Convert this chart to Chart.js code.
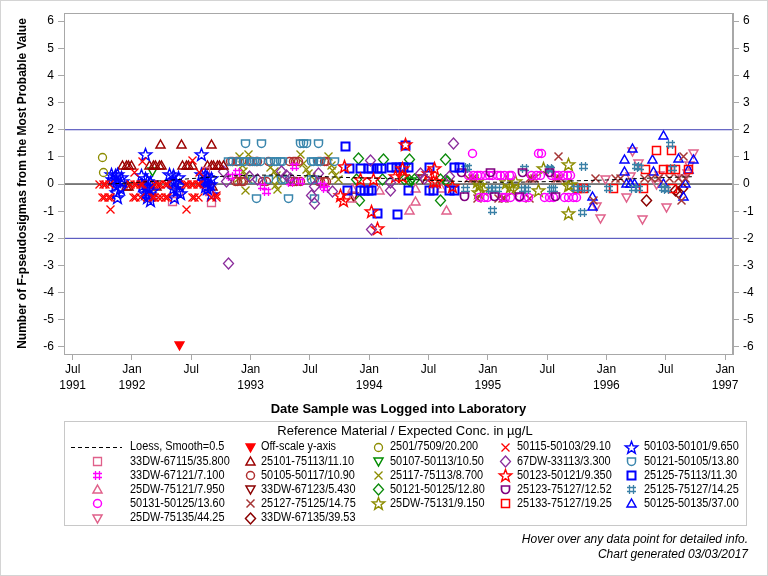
<!DOCTYPE html>
<html>
<head>
<meta charset="utf-8">
<title>Reference material F-pseudosigmas</title>
<script src="https://cdn.jsdelivr.net/npm/chart.js@4.4.1/dist/chart.umd.min.js"></script>
<style>
  html, body { margin: 0; padding: 0; background: #fff; }
  #wrap { width: 768px; height: 576px; }
</style>
</head>
<body>
<div id="wrap"><canvas id="chart" width="768" height="576"></canvas></div>
<script>
// Axis range (decimal years) and tick labels
const xMin = 1991.427, xMax = 1997.067;
const yMin = -6.26, yMax = 6.3;
const xTicks = [1991.5, 1992, 1992.5, 1993, 1993.5, 1994, 1994.5, 1995, 1995.5, 1996, 1996.5, 1997];
const yTicks = [-6, -5, -4, -3, -2, -1, 0, 1, 2, 3, 4, 5, 6];
const refLines = [0, 2, -2];

// Data: [decimal year, pseudosigmas]
const loess = [[1991.8, 0.0], [1992.0, 0.05], [1992.25, 0.12], [1992.5, 0.2], [1992.75, 0.28], [1993.0, 0.32],
  [1993.25, 0.33], [1993.5, 0.3], [1993.75, 0.25], [1994.0, 0.22], [1994.25, 0.19], [1994.5, 0.14],
  [1994.75, 0.1], [1995.0, 0.07], [1995.25, 0.07], [1995.5, 0.09], [1995.75, 0.12], [1996.0, 0.15],
  [1996.25, 0.2], [1996.5, 0.24], [1996.72, 0.27]];
const offScale = [[1992.40, -5.95]];
const s2501 = [[1991.75, 0.98], [1991.76, 0.43]];
const s50115 = [[1991.73, -0.02], [1991.76, -0.02], [1991.78, -0.02], [1991.81, -0.02],
  [1991.99, -0.02], [1992.02, -0.02], [1992.04, -0.02], [1992.07, -0.02], [1992.09, -0.02],
  [1992.19, -0.02], [1992.22, -0.02], [1992.24, -0.02], [1992.28, -0.02], [1992.30, -0.02],
  [1992.45, -0.02], [1992.47, -0.02], [1992.50, -0.02], [1992.52, -0.02], [1992.55, -0.02], [1992.57, -0.02],
  [1991.75, -0.49], [1991.77, -0.49], [1991.80, -0.49], [1991.82, -0.49],
  [1992.01, -0.49], [1992.03, -0.49], [1992.07, -0.49],
  [1992.17, -0.49], [1992.19, -0.49], [1992.22, -0.49], [1992.25, -0.49], [1992.28, -0.49], [1992.30, -0.49],
  [1992.51, -0.49], [1992.53, -0.49], [1992.56, -0.49], [1992.67, -0.49], [1992.71, -0.49],
  [1991.82, -0.93], [1992.46, -0.93], [1992.09, 0.82], [1992.51, 0.86], [1992.02, 0.42], [1992.57, 0.42], [1992.71, -0.41]];
const s50103 = [[1991.83, 0.35], [1991.86, 0.3], [1991.88, 0.35], [1991.91, 0.25], [1991.84, 0.15], [1991.87, 0.1],
  [1991.92, 0.1], [1991.86, -0.05], [1991.90, -0.15], [1991.87, -0.3], [1991.88, -0.5],
  [1992.08, 0.3], [1992.11, 0.2], [1992.13, 0.1], [1992.16, 0.05], [1992.09, -0.05], [1992.12, -0.1],
  [1992.14, -0.2], [1992.17, -0.25], [1992.11, -0.35], [1992.15, -0.4], [1992.13, -0.5], [1992.16, -0.6], [1992.11, 1.07],
  [1992.32, 0.35], [1992.35, 0.3], [1992.39, 0.25], [1992.34, 0.1], [1992.37, 0.05], [1992.40, -0.05],
  [1992.35, -0.15], [1992.38, -0.25], [1992.41, -0.35], [1992.36, -0.5],
  [1992.59, 0.35], [1992.62, 0.3], [1992.64, 0.25], [1992.67, 0.2], [1992.61, 0.1], [1992.63, 0.05],
  [1992.66, 0.0], [1992.62, -0.1], [1992.59, 1.1], [1992.67, -0.4], [1992.64, -0.15]];
const s33dw67115 = [[1992.34, -0.65], [1992.67, -0.67], [1992.62, 0.47], [1992.13, -0.29], [1992.39, -0.29], [1992.65, -0.29]];
const s25101 = [[1992.24, 1.44], [1992.42, 1.44], [1992.67, 1.44],
  [1991.92, 0.7], [1991.95, 0.7], [1991.97, 0.7], [1992.0, 0.7],
  [1992.15, 0.7], [1992.18, 0.7], [1992.20, 0.7], [1992.23, 0.7], [1992.25, 0.7],
  [1992.43, 0.7], [1992.46, 0.7], [1992.48, 0.7], [1992.51, 0.7],
  [1992.64, 0.7], [1992.67, 0.7], [1992.69, 0.7], [1992.72, 0.7], [1992.74, 0.7], [1992.77, 0.7],
  [1991.95, -0.1], [1991.97, -0.1], [1992.21, -0.1], [1992.68, -0.1]];
const s50107 = [[1992.17, 0.45], [1994.36, 0.1]];
const s67dw = [[1992.77, 0.45], [1992.80, 0.08], [1992.81, -2.91], [1992.99, 0.27], [1993.06, 0.15],
  [1993.26, 0.45], [1993.30, 0.33], [1993.34, 0.22], [1993.57, 0.39], [1993.54, -0.1], [1993.51, -0.41],
  [1993.54, -0.7], [1993.69, -0.28], [1994.01, 0.88], [1994.18, 0.04], [1994.18, -0.22], [1994.02, -1.69],
  [1994.71, 1.5], [1994.43, 0.39], [1994.47, 0.2], [1994.68, 0.27]];
const s50121_05 = [[1992.96, 1.5], [1993.09, 1.5], [1993.42, 1.5], [1993.45, 1.5], [1993.47, 1.5], [1993.57, 1.5],
  [1992.81, 0.82], [1992.85, 0.82], [1992.91, 0.82], [1992.94, 0.82], [1992.95, 0.82], [1993.0, 0.82],
  [1993.03, 0.82], [1993.05, 0.82], [1993.08, 0.82], [1993.17, 0.82], [1993.20, 0.82], [1993.22, 0.82],
  [1993.25, 0.82], [1993.27, 0.82], [1993.51, 0.82], [1993.53, 0.82], [1993.56, 0.82], [1993.59, 0.82], [1993.71, 0.82],
  [1993.02, 0.15], [1993.15, 0.15], [1993.26, 0.15], [1993.29, 0.15], [1993.51, 0.15], [1993.54, 0.15],
  [1993.05, -0.53], [1993.32, -0.53], [1993.54, -0.53]];
const s33dw67121 = [[1992.83, 0.27], [1992.89, 0.41], [1993.10, -0.1], [1993.13, -0.28], [1993.37, 0.66],
  [1993.34, 0.04], [1993.42, 0.08], [1993.61, -0.04], [1993.63, -0.16]];
const s50105 = [[1992.83, 0.82], [1992.85, 0.82], [1992.88, 0.82], [1992.89, 0.82],
  [1992.99, 0.82], [1993.02, 0.82], [1993.05, 0.82], [1993.06, 0.82], [1993.15, 0.82],
  [1993.33, 0.82], [1993.36, 0.82], [1993.38, 0.82], [1993.40, 0.82],
  [1993.57, 0.82], [1993.59, 0.82], [1993.62, 0.82], [1993.64, 0.82],
  [1992.87, 0.08], [1992.89, 0.08], [1992.92, 0.08], [1992.94, 0.08], [1993.10, 0.08], [1993.13, 0.08],
  [1993.34, 0.08], [1993.37, 0.08], [1993.39, 0.08], [1993.42, 0.08],
  [1993.57, 0.08], [1993.59, 0.08], [1993.62, 0.08], [1993.64, 0.08]];
const s25117 = [[1992.91, 1.0], [1992.93, 0.7], [1992.94, 0.45], [1992.96, 0.3], [1992.90, 0.2], [1992.98, 0.15],
  [1992.98, 1.07], [1992.96, -0.22],
  [1993.17, 0.6], [1993.20, 0.45], [1993.22, 0.3], [1993.24, 0.15], [1993.21, -0.05], [1993.23, -0.2],
  [1993.42, 1.07], [1993.45, 0.75], [1993.47, 0.55], [1993.49, 0.4], [1993.51, 0.27],
  [1993.66, 1.0], [1993.68, 0.7], [1993.69, 0.5], [1993.72, 0.3], [1993.74, 0.15]];
const s50123 = [[1993.79, 0.64], [1993.76, -0.41], [1993.78, -0.59], [1994.02, -1.02], [1994.07, -1.63],
  [1993.93, 0.15], [1994.04, 0.15], [1994.31, 1.44], [1994.28, 0.58], [1994.55, 0.58], [1994.22, 0.27],
  [1994.28, 0.27], [1994.54, 0.08], [1994.57, 0.08], [1994.70, -0.1], [1994.50, 0.39]];
const s25125_13 = [[1993.80, 1.4], [1993.83, 0.58], [1993.93, 0.58], [1993.99, 0.58], [1994.02, 0.58],
  [1994.07, 0.58], [1994.10, 0.58], [1993.82, -0.22], [1993.93, -0.22], [1993.96, -0.22], [1993.99, -0.22],
  [1994.02, -0.22], [1994.07, -1.08], [1994.24, -1.14], [1994.19, 0.6], [1994.23, 0.6], [1994.26, 0.6],
  [1994.29, 0.6], [1994.33, 0.6], [1994.33, -0.22], [1994.51, 0.6], [1994.51, -0.22], [1994.54, -0.22],
  [1994.72, 0.6], [1994.76, 0.6], [1994.68, -0.22], [1994.72, -0.22], [1994.31, 1.43]];
const s25dw75121 = [[1993.86, -0.16], [1993.85, -0.53], [1994.09, -0.22], [1994.39, -0.63], [1994.34, -0.99],
  [1994.65, -0.99], [1994.39, -0.16], [1994.61, -0.16]];
const s33dw67123 = [[1993.87, -0.45], [1994.45, 0.22]];
const s50121_25 = [[1993.91, 0.94], [1994.12, 0.92], [1993.92, -0.59], [1993.89, 0.15], [1994.11, 0.15],
  [1994.34, 0.91], [1994.64, 0.91], [1994.60, -0.59], [1994.30, 0.15], [1994.34, 0.12], [1994.38, 0.15],
  [1994.60, 0.15], [1994.64, 0.12], [1994.66, 0.1]];
const s25123 = [[1994.78, 0.42], [1995.02, 0.42], [1995.29, 0.42], [1995.52, 0.42],
  [1994.80, -0.47], [1995.06, -0.47], [1995.27, -0.47], [1995.57, -0.47]];
const s25125_27 = [[1994.81, 0.58], [1994.83, 0.6], [1995.31, 0.58], [1995.52, 0.58], [1995.53, 0.55],
  [1994.81, -0.2], [1995.02, -0.2], [1995.05, -0.2], [1995.08, -0.2], [1995.30, -0.2], [1995.33, -0.2],
  [1995.54, -0.2], [1995.55, -0.2], [1995.04, -0.99], [1995.81, 0.64], [1995.80, -1.04], [1995.74, -0.16],
  [1995.78, -0.16], [1995.83, -0.16], [1996.02, -0.16], [1996.23, -0.16], [1996.27, -0.16], [1996.48, -0.16],
  [1996.25, 0.64], [1996.28, 0.6], [1996.54, 1.47], [1996.56, 0.58], [1996.51, -0.2]];
const s50131 = [[1994.87, 1.13], [1995.43, 1.13], [1995.45, 1.13],
  [1994.84, 0.33], [1994.88, 0.33], [1994.91, 0.33], [1994.94, 0.33], [1994.98, 0.33], [1995.01, 0.33],
  [1995.04, 0.33], [1995.08, 0.33], [1995.11, 0.33], [1995.14, 0.33], [1995.18, 0.33], [1995.20, 0.33],
  [1995.37, 0.33], [1995.41, 0.33], [1995.44, 0.33], [1995.54, 0.33], [1995.57, 0.33], [1995.60, 0.33],
  [1995.64, 0.33], [1995.67, 0.33], [1995.70, 0.33],
  [1994.93, -0.49], [1994.97, -0.49], [1995.0, -0.49], [1995.12, -0.49], [1995.15, -0.49], [1995.19, -0.49],
  [1995.27, -0.49], [1995.31, -0.49], [1995.34, -0.49], [1995.48, -0.49], [1995.52, -0.49], [1995.55, -0.49],
  [1995.65, -0.49], [1995.68, -0.49], [1995.72, -0.49], [1995.75, -0.49]];
const s25127 = [[1995.60, 1.0], [1994.84, 0.2], [1994.87, 0.2], [1994.89, 0.2], [1995.35, 0.2], [1995.37, 0.2],
  [1995.39, 0.2], [1995.57, 0.2], [1995.59, 0.2], [1995.61, 0.2], [1994.91, -0.53], [1995.09, -0.53],
  [1995.12, -0.53], [1995.14, -0.53], [1995.35, -0.53], [1995.89, -0.59], [1995.91, 0.2], [1996.08, 0.2],
  [1996.12, 0.2], [1996.32, 0.2], [1996.38, 0.2], [1996.44, 0.22], [1996.53, 0.2], [1996.65, 1.0],
  [1996.61, 0.2], [1996.67, 0.2], [1996.63, -0.59]];
const s25dw75131 = [[1995.47, 0.58], [1995.68, 0.72], [1995.68, -0.04], [1995.68, -1.08], [1994.91, 0.1],
  [1994.93, -0.05], [1994.96, -0.2], [1994.92, -0.3], [1995.16, 0.05], [1995.19, -0.1], [1995.21, -0.2],
  [1995.23, 0.1], [1995.43, -0.22], [1995.70, 0.0]];
const s25133 = [[1996.42, 1.25], [1996.55, 1.25], [1996.33, 0.55], [1996.48, 0.55], [1996.54, 0.55],
  [1996.58, 0.55], [1996.69, 0.55], [1995.76, -0.15], [1995.81, -0.15], [1996.06, -0.15], [1996.31, -0.15],
  [1996.56, -0.15]];
const s50125 = [[1996.48, 1.8], [1996.22, 1.31], [1996.15, 0.91], [1996.39, 0.91], [1996.73, 0.91],
  [1996.15, 0.45], [1996.40, 0.45], [1995.88, -0.47], [1995.88, -0.83], [1996.17, 0.03], [1996.20, 0.03],
  [1996.24, 0.03], [1996.48, 0.03], [1996.67, 0.03], [1996.65, -0.47], [1996.69, 0.52], [1996.61, 0.94]];
const s25dw75135 = [[1996.22, 1.19], [1996.27, 0.76], [1996.17, -0.49], [1995.95, -1.26], [1996.51, -0.86],
  [1996.73, 1.13], [1996.70, 0.7], [1995.92, -0.83], [1996.30, -1.3], [1996.42, 0.0], [1996.20, 0.29],
  [1995.99, 0.15], [1996.45, 0.33], [1996.64, 0.21], [1996.68, 0.39]];
const s33dw67135 = [[1996.34, -0.61], [1996.58, -0.22], [1996.64, -0.16], [1996.61, -0.3]];

// Marker glyphs drawn on small canvases so they can be used as pointStyle
function makeMarker(shape, color, lw) {
  const c = document.createElement("canvas");
  c.width = 19; c.height = 19;
  const g = c.getContext("2d");
  g.strokeStyle = color;
  g.fillStyle = color;
  g.lineWidth = lw || 1.3;
  g.beginPath();
  if (shape === "square") {
    g.rect(5.5, 5.5, 8, 8);
  } else if (shape === "circle") {
    g.arc(9.5, 9.5, 4, 0, Math.PI * 2);
  } else if (shape === "triangle") {
    g.moveTo(9.5, 5); g.lineTo(14, 13); g.lineTo(5, 13); g.closePath();
  } else if (shape === "triangleDown" || shape === "triangleFill") {
    g.moveTo(5, 6); g.lineTo(14, 6); g.lineTo(9.5, 14); g.closePath();
  } else if (shape === "diamond") {
    g.moveTo(9.5, 4); g.lineTo(14.5, 9.5); g.lineTo(9.5, 15); g.lineTo(4.5, 9.5); g.closePath();
  } else if (shape === "x") {
    g.moveTo(5.5, 5.5); g.lineTo(13.5, 13.5); g.moveTo(13.5, 5.5); g.lineTo(5.5, 13.5);
  } else if (shape === "hash") {
    g.moveTo(7.5, 5); g.lineTo(7.5, 14); g.moveTo(11.5, 5); g.lineTo(11.5, 14);
    g.moveTo(5, 7.5); g.lineTo(14, 7.5); g.moveTo(5, 11.5); g.lineTo(14, 11.5);
  } else if (shape === "star") {
    for (let i = 0; i < 10; i++) {
      const r = i % 2 ? 2.7 : 6.5;
      const a = -Math.PI / 2 + i * Math.PI / 5;
      const px = 9.5 + r * Math.cos(a), py = 10 + r * Math.sin(a);
      if (i === 0) g.moveTo(px, py); else g.lineTo(px, py);
    }
    g.closePath();
  } else if (shape === "union") {
    g.moveTo(5.5, 6); g.lineTo(13.5, 6); g.lineTo(13.5, 9.5);
    g.arc(9.5, 9.5, 4, 0, Math.PI); g.closePath();
  }
  if (shape === "triangleFill") g.fill();
  g.stroke();
  return c;
}

function series(label, data, shape, color, lw) {
  return {
    label: label,
    data: data,
    pointStyle: makeMarker(shape, color, lw),
    pointRadius: 4,
    pointHoverRadius: 4,
    borderColor: color,
    backgroundColor: color,
    showLine: false
  };
}

// Datasets in legend order (row by row, five columns)
const datasets = [
  { label: "Loess, Smooth=0.5", data: loess, showLine: true, borderColor: "#000", borderWidth: 1,
    borderDash: [4, 3], pointRadius: 0, tension: 0.35, isLoess: true },
  series("Off-scale y-axis", offScale, "triangleFill", "#ff0000"),
  series("2501/7509/20.200", s2501, "circle", "#8c8c00"),
  series("50115-50103/29.10", s50115, "x", "#ff0000"),
  series("50103-50101/9.650", s50103, "star", "#0000ff", 1.4),
  series("33DW-67115/35.800", s33dw67115, "square", "#e0608a"),
  series("25101-75113/11.10", s25101, "triangle", "#9b0000", 1.5),
  series("50107-50113/10.50", s50107, "triangleDown", "#008c00", 1.5),
  series("67DW-33113/3.300", s67dw, "diamond", "#8b2d9c"),
  series("50121-50105/13.80", s50121_05, "union", "#3a86ad", 1.5),
  series("33DW-67121/7.100", s33dw67121, "hash", "#ff00ff"),
  series("50105-50117/10.90", s50105, "circle", "#b03030", 1.5),
  series("25117-75113/8.700", s25117, "x", "#8c8c00"),
  series("50123-50121/9.350", s50123, "star", "#ff0000", 1.4),
  series("25125-75113/11.30", s25125_13, "square", "#0000ff", 2),
  series("25DW-75121/7.950", s25dw75121, "triangle", "#e0608a", 1.5),
  series("33DW-67123/5.430", s33dw67123, "triangleDown", "#8b0000", 1.5),
  series("50121-50125/12.80", s50121_25, "diamond", "#0a8a0a"),
  series("25123-75127/12.52", s25123, "union", "#800080", 1.7),
  series("25125-75127/14.25", s25125_27, "hash", "#3a80a6"),
  series("50131-50125/13.60", s50131, "circle", "#ff00ff", 1.5),
  series("25127-75125/14.75", s25127, "x", "#a53535", 1.5),
  series("25DW-75131/9.150", s25dw75131, "star", "#8c8c00", 1.4),
  series("25133-75127/19.25", s25133, "square", "#ff0000", 1.5),
  series("50125-50135/37.00", s50125, "triangle", "#0000ff", 1.5),
  series("25DW-75135/44.25", s25dw75135, "triangleDown", "#e0608a", 1.5),
  series("33DW-67135/39.53", s33dw67135, "diamond", "#8b0000", 1.5)
];

// Reference lines at 0 and +/-2, drawn underneath the markers
refLines.forEach(v => {
  datasets.push({
    label: "ref" + v, data: [[xMin, v], [xMax, v]], showLine: true, pointRadius: 0,
    borderColor: v === 0 ? "#000" : "#3c3cb4", borderWidth: 1, order: 10, isRef: true
  });
});

const regular = '"Liberation Sans", Arial, sans-serif';

// Frame, legend box and footnote
const decorations = {
  id: "decorations",
  beforeDatasetsDraw(chart) {
    chart.ctx.imageSmoothingEnabled = false;
  },
  afterDraw(chart) {
    const ctx = chart.ctx;
    const a = chart.chartArea;
    ctx.save();
    ctx.imageSmoothingEnabled = false;
    ctx.lineWidth = 1;
    ctx.strokeStyle = "#a8a8a8";
    ctx.strokeRect(Math.round(a.left) + 0.5, Math.round(a.top) + 0.5, Math.round(a.right - a.left) - 1, Math.round(a.bottom - a.top));
    ctx.strokeStyle = "#d4d4d4";
    ctx.strokeRect(0.5, 0.5, 767, 575);

    // legend
    ctx.strokeStyle = "#c8c8c8";
    ctx.strokeRect(64.5, 421.5, 682, 104);
    ctx.fillStyle = "#000";
    ctx.textBaseline = "middle";
    ctx.textAlign = "center";
    ctx.font = "13px " + regular;
    ctx.fillText("Reference Material / Expected Conc. in \u00b5g/L", 405, 431);
    const textX = [130, 261, 390, 517, 644];
    const markX = [97, 250, 378, 505, 631];
    ctx.textAlign = "left";
    ctx.font = "12px " + regular;
    chart.data.datasets.filter(d => !d.isRef).forEach((d, i) => {
      const col = i % 5, row = Math.floor(i / 5);
      const y = 447 + row * 14.2;
      if (d.isLoess) {
        ctx.save();
        ctx.strokeStyle = "#000";
        ctx.setLineDash([4, 3]);
        ctx.beginPath();
        ctx.moveTo(71, Math.round(y) + 0.5);
        ctx.lineTo(122, Math.round(y) + 0.5);
        ctx.stroke();
        ctx.restore();
      } else {
        const m = d.pointStyle;
        ctx.drawImage(m, Math.round(markX[col] - m.width / 2), Math.round(y - m.height / 2));
      }
      // the original legend font is a little condensed
      ctx.fillText(d.label, textX[col], y, ctx.measureText(d.label).width * 0.91);
    });

    // footnote
    ctx.textAlign = "right";
    ctx.font = "italic 12px " + regular;
    ctx.fillText("Hover over any data point for detailed info.", 748, 540);
    ctx.fillText("Chart generated 03/03/2017", 748, 555);
    ctx.restore();
  }
};

const axisGrid = { display: true, drawOnChartArea: false, drawTicks: true, tickLength: 6, color: "#a8a8a8" };
const setY = s => { s.ticks = yTicks.map(v => ({ value: v })); };

new Chart(document.getElementById("chart"), {
  type: "scatter",
  data: { datasets: datasets },
  plugins: [decorations],
  options: {
    responsive: false,
    animation: false,
    layout: { padding: { top: 13, bottom: 156, left: 0, right: 0 } },
    plugins: {
      legend: { display: false },
      tooltip: { enabled: true }
    },
    scales: {
      x: {
        type: "linear",
        min: xMin,
        max: xMax,
        afterBuildTicks: s => { s.ticks = xTicks.map(v => ({ value: v })); },
        afterFit: s => { s.height = 66; },
        grid: axisGrid,
        border: { color: "#a8a8a8" },
        ticks: {
          color: "#000",
          padding: 2,
          maxRotation: 0,
          autoSkip: false,
          font: { family: regular, size: 12, lineHeight: 1.3 },
          callback: v => {
            if (v === 1991.5) return ["Jul", "1991"];
            return v % 1 === 0 ? ["Jan", String(v)] : ["Jul"];
          }
        },
        title: {
          display: true,
          text: "Date Sample was Logged into Laboratory",
          color: "#000",
          font: { family: regular, size: 13, weight: "bold" },
          padding: { top: 0, bottom: 3 }
        }
      },
      y: {
        min: yMin,
        max: yMax,
        afterBuildTicks: setY,
        afterFit: s => { s.width = 64; },
        grid: axisGrid,
        border: { color: "#a8a8a8" },
        ticks: { color: "#000", padding: 4, font: { family: regular, size: 12 } },
        title: {
          display: true,
          text: "Number of F-pseudosigmas from the Most Probable Value",
          color: "#000",
          font: { family: regular, size: 12, weight: "bold" },
          padding: { top: 15, bottom: 0 }
        }
      },
      y2: {
        position: "right",
        min: yMin,
        max: yMax,
        afterBuildTicks: setY,
        afterFit: s => { s.width = 35; },
        grid: axisGrid,
        border: { color: "#a8a8a8" },
        ticks: { color: "#000", padding: 4, font: { family: regular, size: 12 } }
      }
    }
  }
});
</script>
</body>
</html>
